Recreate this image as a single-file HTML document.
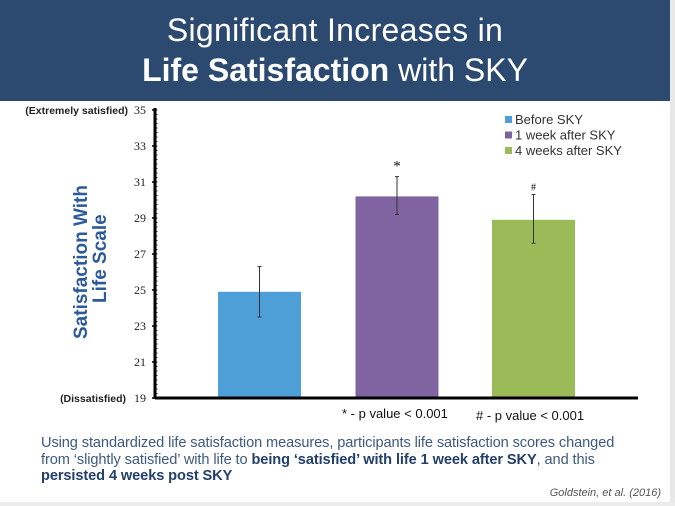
<!DOCTYPE html>
<html><head><meta charset="utf-8">
<style>
body{margin:0;width:675px;height:506px;overflow:hidden;background:#fff;font-family:"Liberation Sans",sans-serif;position:relative}
.hdr{position:absolute;left:0;top:0;width:670px;height:101px;background:#2c4a6f;color:#fff;text-align:center}
.t1{position:absolute;top:12px;left:0;width:670px;font-size:32px;font-weight:300;letter-spacing:0.3px}
.t2{position:absolute;top:52px;left:0;width:670px;font-size:32px}
.rb{position:absolute;left:670px;top:0;width:5px;height:506px;background:#e8e8e8}
.bb{position:absolute;left:0;top:502px;width:675px;height:4px;background:#ececec}
.cap{position:absolute;left:41px;top:435px;font-size:14.6px;color:#3d5a80;line-height:16.5px;width:630px;white-space:nowrap;letter-spacing:-0.1px}
.cap b{color:#23406b}
.cite{position:absolute;right:14px;top:487px;font-size:11px;font-style:italic;color:#555}
</style></head><body>
<div class="hdr">
 <div class="t1">Significant Increases in</div>
 <div class="t2"><b>Life Satisfaction</b> <span style="font-weight:300">with SKY</span></div>
</div>
<div class="rb"></div><div class="bb"></div>
<svg id="chart" width="675" height="430" style="position:absolute;left:0;top:0">
 <text x="87" y="339" transform="rotate(-90 87 339)" font-size="19" font-weight="bold" fill="#2d5a9a" text-anchor="start">Satisfaction With</text>
 <text x="106" y="303" transform="rotate(-90 106 303)" font-size="19" font-weight="bold" fill="#2d5a9a" text-anchor="start">Life Scale</text>
 <text x="128" y="114" font-size="10.5" font-weight="bold" fill="#222" text-anchor="end">(Extremely satisfied)</text>
 <text x="126" y="402" font-size="10.5" font-weight="bold" fill="#222" text-anchor="end">(Dissatisfied)</text>
 <g id="legend"></g>
 <text x="342" y="418" font-size="13" fill="#111">* - p value &lt; 0.001</text>
 <text x="476" y="420" font-size="13" fill="#111"># - p value &lt; 0.001</text>
</svg>
<div class="cap">Using standardized life satisfaction measures, participants life satisfaction scores changed<br>from ‘slightly satisfied’ with life to <b>being ‘satisfied’ with life 1 week after SKY</b>, and this<br><b>persisted 4 weeks post SKY</b></div>
<div class="cite">Goldstein, et al. (2016)</div>
<script>
const categories=["Before SKY","1 week after SKY","4 weeks after SKY"];
const values=[24.9,30.2,28.9];
const errLow=[23.5,29.2,27.6];
const errHigh=[26.3,31.3,30.3];
const marks=["","*","#"];
const colors=["#4e9fd7","#8064a2","#9bbb59"];
const yTicks=[19,21,23,25,27,29,31,33,35];
const NS="http://www.w3.org/2000/svg";
const svg=document.getElementById('chart');
const y0=398,y1=110,vmin=19,vmax=35;
const y=v=>y0-(v-vmin)/(vmax-vmin)*(y0-y1);
const axX=155,bw=83,centers=[259.5,397,533.5];
function el(t,a){const e=document.createElementNS(NS,t);for(const k in a)e.setAttribute(k,a[k]);svg.appendChild(e);return e;}
values.forEach((v,i)=>{
 const r=el('rect',{x:centers[i]-bw/2,y:y(v),width:bw,height:y0-y(v),fill:colors[i]});
 
 
 const l=el('line',{x1:centers[i],x2:centers[i],y1:y(errHigh[i]),y2:y(errLow[i]),stroke:'#333','stroke-width':1});
 
 
 el('line',{x1:centers[i]-2,x2:centers[i]+2,y1:y(errHigh[i]),y2:y(errHigh[i]),stroke:'#333'});
 el('line',{x1:centers[i]-2,x2:centers[i]+2,y1:y(errLow[i]),y2:y(errLow[i]),stroke:'#333'});
 if(marks[i]){const t=el('text',{x:centers[i],y:y(errHigh[i])-(marks[i]=='*'?6:4),'font-size':marks[i]=='*'?15:10,'text-anchor':'middle',fill:'#111','font-family':'Liberation Serif'});t.textContent=marks[i];
 
 }
});
el('line',{x1:axX,x2:axX,y1:y1-2,y2:y0+1,stroke:'#000','stroke-width':3});
el('line',{x1:axX,x2:638,y1:y0,y2:y0,stroke:'#000','stroke-width':3});
for(let v=vmin;v<=vmax;v+=0.25){el('line',{x1:axX,x2:axX+2.5,y1:y(v),y2:y(v),stroke:'#000','stroke-width':0.8});}
yTicks.forEach(v=>{
 el('line',{x1:axX-3,x2:axX+1,y1:y(v),y2:y(v),stroke:'#000','stroke-width':1.5});
 const t=el('text',{x:146,y:y(v)+4,'font-size':12,'text-anchor':'end',fill:'#222','font-family':'Liberation Serif'});t.textContent=v;
 
 
});
categories.forEach((c,i)=>{
 const yy=124+i*15.5;
 el('rect',{x:505,y:yy-8,width:7,height:7,fill:colors[i]});
 const t=el('text',{x:515,y:yy,'font-size':13,fill:'#333'});t.textContent=c;
 
 
});
</script>
</body></html>
